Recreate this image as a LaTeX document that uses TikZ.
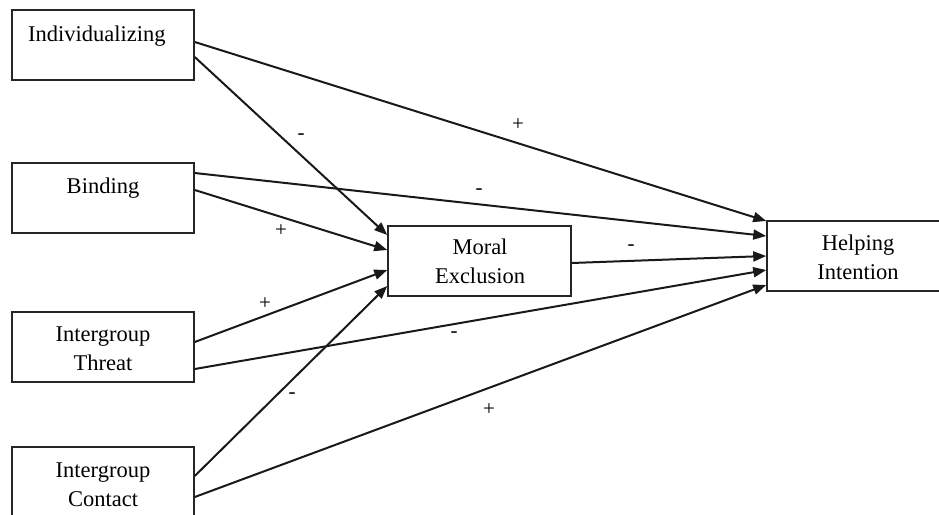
\documentclass[tikz,border=0pt]{standalone}
\usepackage{fontspec}
\setmainfont{Liberation Serif}
\usetikzlibrary{arrows.meta}
\begin{document}
\begin{tikzpicture}[x=1pt,y=-1pt,
  box/.style={draw=black!85, line width=1.5pt, minimum width=182pt, minimum height=70pt, inner sep=0pt},
  lbl/.style={font=\fontsize{22.5}{28.5}\selectfont, text=black, inner sep=0pt, align=center},
  sign/.style={font=\fontsize{21}{21}\selectfont, text=black, inner sep=0pt},
  link/.style={line width=2pt, draw=black!90, -{Triangle[length=13pt,width=10pt]}}
]
\useasboundingbox (0,0) rectangle (939,514);
\clip (0,0) rectangle (939,514);

% predictor and outcome boxes
\node[box] (ind) at (103,45) {};
\node[box] (bin) at (103,198) {};
\node[box] (thr) at (103,347) {};
\node[box] (con) at (103,482) {};
\node[box, minimum width=183pt] (me) at (479.5,261) {};
\node[box, minimum width=183pt] (hi) at (858.5,256) {};

% box captions (base = baseline of the last line)
\node[lbl, anchor=base west] (ind-t) at (28,41) {Individualizing};
\node[lbl, anchor=base] (bin-t) at (103,193) {Binding};
\node[lbl, anchor=base] (thr-t) at (103,370) {Intergroup\\Threat};
\node[lbl, anchor=base] (con-t) at (103,506) {Intergroup\\Contact};
\node[lbl, anchor=base] (me-t) at (480,283) {Moral\\Exclusion};
\node[lbl, anchor=base] (hi-t) at (858,279) {Helping\\Intention};

% paths
\draw[link] ([yshift=3pt]ind.east) -- ([yshift=35pt]hi.west);
\draw[link] ([yshift=-12pt]ind.east) -- ([yshift=26pt]me.west);
\draw[link] ([yshift=25pt]bin.east) -- ([yshift=20pt]hi.west);
\draw[link] ([yshift=8pt]bin.east) -- ([yshift=11pt]me.west);
\draw[link] ([yshift=5pt]thr.east) -- ([yshift=-9pt]me.west);
\draw[link] ([yshift=-22pt]thr.east) -- ([yshift=-14pt]hi.west);
\draw[link] ([yshift=-2pt]me.east) -- (hi.west);
\draw[link] ([yshift=6pt]con.east) -- ([yshift=-25pt]me.west);
\draw[link] ([yshift=-15pt]con.east) -- ([yshift=-29pt]hi.west);

% signs of the paths
\node[sign] (s1) at (301,137) {-};
\node[sign] (s2) at (518,125) {+};
\node[sign] (s3) at (479,192) {-};
\node[sign] (s4) at (281,231) {+};
\node[sign] (s5) at (265,304) {+};
\node[sign] (s6) at (631,248) {-};
\node[sign] (s7) at (454,335) {-};
\node[sign] (s8) at (292,396) {-};
\node[sign] (s9) at (489,410) {+};
\end{tikzpicture}
\end{document}
